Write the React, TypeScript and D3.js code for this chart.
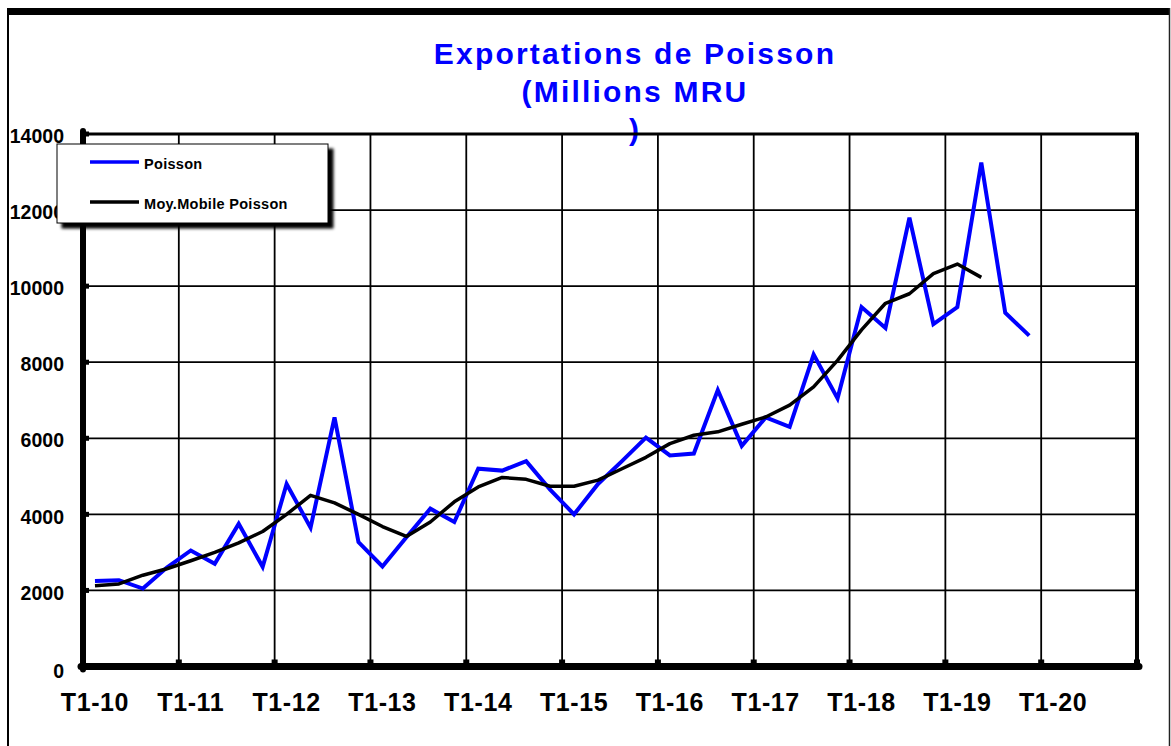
import React from "react";
import * as d3 from "d3";

const yearLabels = ["T1-10", "T1-11", "T1-12", "T1-13", "T1-14", "T1-15", "T1-16", "T1-17", "T1-18", "T1-19", "T1-20"];
const yTicks = [0, 2000, 4000, 6000, 8000, 10000, 12000, 14000];

// Quarterly values, T1-10 .. T4-19
const poisson = [
  2250, 2270, 2050, 2600, 3050, 2700, 3750, 2620,
  4800, 3650, 6550, 3270, 2630, 3400, 4150, 3800,
  5200, 5150, 5400, 4650, 4000, 4800, 5400, 6020,
  5550, 5600, 7270, 5800, 6550, 6300, 8200, 7050,
  9450, 8900, 11800, 9000, 9450, 13250, 9300, 8700,
];
const moyMobile = [
  2120, 2170, 2400, 2570, 2780, 3000, 3250, 3550,
  4000, 4500, 4300, 4000, 3680, 3420, 3800, 4330,
  4720, 4970, 4920, 4740, 4740, 4900, 5200, 5500,
  5860, 6080, 6170, 6370, 6560, 6870, 7350, 8050,
  8850, 9550, 9800, 10330, 10580, 10230,
];

const seriesNames = ["Poisson", "Moy.Mobile Poisson"];
const seriesColors = ["#0000ff", "#000000"];

const FONT = "'Liberation Sans', Arial, Helvetica, sans-serif";

export default function App() {
  const W = 1171, H = 746;
  const left = 83, right = 1137, top = 134, bottom = 666.5;
  const nQ = 44;
  const x = d3.scaleLinear().domain([0, nQ]).range([left, right]);
  const y = d3.scaleLinear().domain([0, 14000]).range([bottom, top]);
  const cx = (i: number) => x(i + 0.5);

  const linePoisson = d3.line<number>().x((_, i) => cx(i)).y((d) => y(d))(poisson) || "";
  const lineMoy = d3.line<number>().x((_, i) => cx(i)).y((d) => y(d))(moyMobile) || "";

  const vGrid = d3.range(4, nQ, 4);

  return (
    <svg width={W} height={H} style={{ position: "absolute", left: 0, top: 0, display: "block", background: "#fff" }}>
      <defs>
        <filter id="shadow" x="-10%" y="-20%" width="130%" height="150%">
          <feGaussianBlur in="SourceAlpha" stdDeviation="1.6" />
          <feOffset dx="5" dy="5" result="b" />
          <feMerge>
            <feMergeNode />
            <feMergeNode in="SourceGraphic" />
          </feMerge>
        </filter>
      </defs>
      {/* outer frame */}
      <rect x={7} y={8} width={1163} height={7} fill="#000" />
      <line x1={8} x2={8} y1={8} y2={H} stroke="#000" strokeWidth={2} />
      <line x1={1169.5} x2={1169.5} y1={8} y2={H} stroke="#222" strokeWidth={1.5} />

      {/* title */}
      <g fontFamily={FONT} fontWeight="bold" fontSize={30} fill="#0000ff" textAnchor="middle" letterSpacing={2.2}>
        <text x={635} y={64}>Exportations de Poisson</text>
        <text x={635} y={102}>(Millions MRU</text>
        <text x={635} y={140}>)</text>
      </g>

      {/* horizontal grid */}
      {yTicks.slice(1, -1).map((v) => (
        <line key={"h" + v} x1={left} x2={right} y1={y(v)} y2={y(v)} stroke="#000" strokeWidth={1.8} />
      ))}
      {/* vertical grid */}
      {vGrid.map((i) => (
        <line key={"v" + i} x1={x(i)} x2={x(i)} y1={top} y2={bottom} stroke="#000" strokeWidth={1.8} />
      ))}
      {/* ticks */}
      {vGrid.concat([nQ]).map((i) => (
        <rect key={"xt" + i} x={x(i) - 3} y={bottom - 7} width={6} height={5} fill="#000" />
      ))}
      {yTicks.slice(1).map((v) => (
        <rect key={"yt" + v} x={left} y={y(v) - 2.5} width={6} height={5} fill="#000" />
      ))}
      {/* plot frame */}
      <line x1={left} x2={right} y1={top} y2={top} stroke="#000" strokeWidth={3} />
      <line x1={right} x2={right} y1={top - 1.5} y2={bottom + 2} stroke="#000" strokeWidth={4} />
      <line x1={left} x2={left} y1={top - 3} y2={bottom + 3} stroke="#000" strokeWidth={6} strokeLinecap="round" />
      <line x1={left - 2} x2={right + 2} y1={bottom} y2={bottom} stroke="#000" strokeWidth={7} strokeLinecap="round" />

      {/* series */}
      <path d={linePoisson} fill="none" stroke={seriesColors[0]} strokeWidth={4} strokeLinejoin="miter" />
      <path d={lineMoy} fill="none" stroke={seriesColors[1]} strokeWidth={3.5} strokeLinejoin="round" />

      {/* y labels */}
      <g fontFamily={FONT} fontWeight="bold" fontSize={19.5} fill="#000" textAnchor="end">
        {yTicks.map((v, k) => (
          <text key={"yl" + v} x={64} y={y(v) + 8.5 + (k === 0 ? 3 : k < 3 ? 1.5 : 0)}>{v}</text>
        ))}
      </g>
      {/* x labels */}
      <g fontFamily={FONT} fontWeight="bold" fontSize={25} fill="#000" textAnchor="middle" letterSpacing={0.6}>
        {yearLabels.map((lab, k) => (
          <text key={lab} x={cx(k * 4)} y={711}>{lab}</text>
        ))}
      </g>

      {/* legend */}
      <rect x={57} y={144} width={271} height={79} fill="#fff" stroke="#000" strokeWidth={1} filter="url(#shadow)" />
      <g fontFamily={FONT} fontWeight="bold" fontSize={14.5} fill="#000" letterSpacing={0.3}>
        {seriesNames.map((n, k) => (
          <g key={n}>
            <line x1={90} x2={139} y1={162 + k * 40} y2={162 + k * 40} stroke={seriesColors[k]} strokeWidth={3.5} />
            <text x={144} y={169 + k * 40}>{n}</text>
          </g>
        ))}
      </g>
    </svg>
  );
}
